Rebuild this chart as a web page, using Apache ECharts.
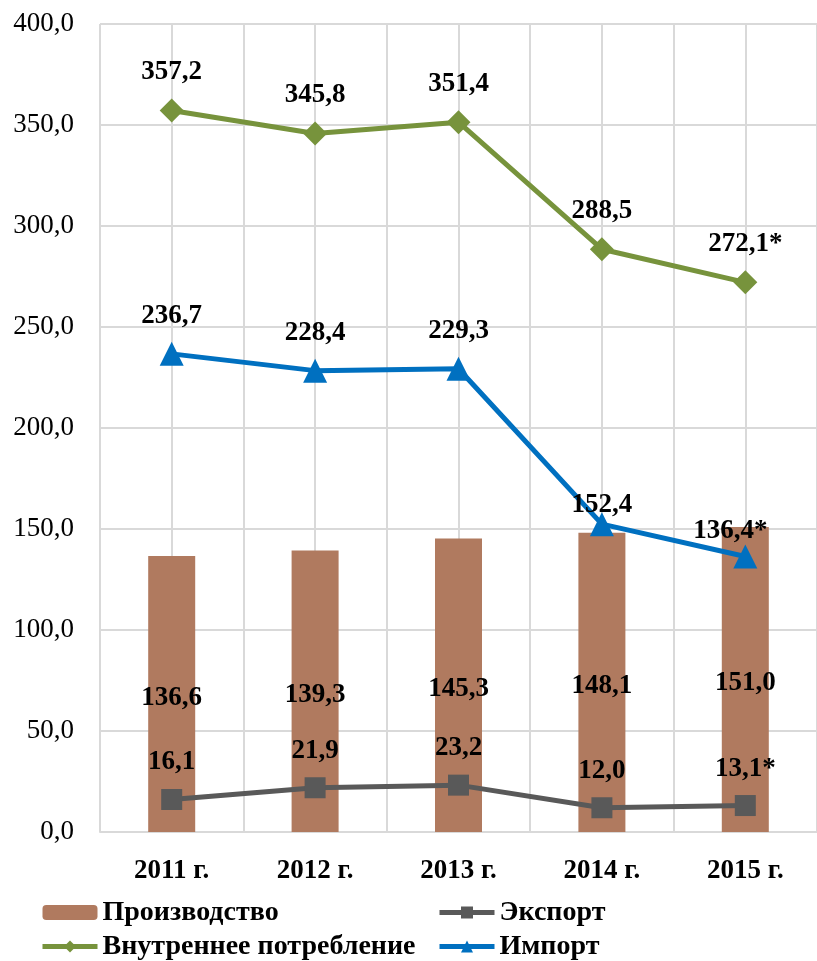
<!DOCTYPE html>
<html><head><meta charset="utf-8">
<script src="https://cdn.jsdelivr.net/npm/echarts@6/dist/echarts.min.js"></script>
<style>html,body{margin:0;padding:0;background:#fff}#c{width:817px;height:961px}</style>
</head><body><div id="c"></div>
<script>
const categories = ['2011 г.', '2012 г.', '2013 г.', '2014 г.', '2015 г.'];
const production = [136.6, 139.3, 145.3, 148.1, 151.0];
const exportVals = [16.1, 21.9, 23.2, 12.0, 13.1];
const consumption = [357.2, 345.8, 351.4, 288.5, 272.1];
const importVals = [236.7, 228.4, 229.3, 152.4, 136.4];
const estimated = [false, false, false, false, true];
const yTicks = { min: 0, max: 400, interval: 50 };

const FONT = '"Liberation Serif", "Times New Roman", serif';
const fmt = v => v.toFixed(1).replace('.', ',');
const fmtLine = p => fmt(p.value) + (estimated[p.dataIndex] ? '*' : '');

const labelBase = { show: true, position: 'top', fontFamily: FONT, fontWeight: 'bold', fontSize: 27, color: '#000' };

// per-point label tweaks for the import line (style only)
const importLabelTweaks = { 3: { distance: -6 }, 4: { distance: 0, offset: [-15, 0] } };

const legendCommon = { orient: 'vertical', top: 898, itemWidth: 55, itemHeight: 15, itemGap: 5, padding: 0,
  lineStyle: { width: 5 },
  textStyle: { fontFamily: FONT, fontWeight: 'bold', fontSize: 28, color: '#000', lineHeight: 29 } };

const chart = echarts.init(document.getElementById('c'), null, { renderer: 'canvas' });
chart.setOption({
  animation: false,
  backgroundColor: '#fff',
  grid: { left: 100, right: 0, top: 24, bottom: 129, containLabel: false },
  xAxis: [
    { type: 'category', data: categories, boundaryGap: true,
      axisLine: { show: true, lineStyle: { color: '#D9D9D9', width: 2 } },
      axisTick: { show: false },
      axisLabel: { fontFamily: FONT, fontWeight: 'bold', fontSize: 27, color: '#000', margin: 26 },
      splitLine: { show: false } },
    { type: 'category', data: categories.flatMap(c => [c + 'a', c + 'b']), boundaryGap: true, position: 'bottom',
      axisLine: { show: false }, axisTick: { show: false }, axisLabel: { show: false },
      splitLine: { show: true, lineStyle: { color: '#D9D9D9', width: 2 } } }
  ],
  yAxis: { type: 'value', min: yTicks.min, max: yTicks.max, interval: yTicks.interval,
    axisLine: { show: false }, axisTick: { show: false },
    axisLabel: { fontFamily: FONT, fontSize: 27, color: '#000', margin: 26, formatter: v => fmt(v) },
    splitLine: { show: true, lineStyle: { color: '#D9D9D9', width: 2 } } },
  legend: [
    Object.assign({ data: ['Производство', 'Внутреннее потребление'], left: 40 }, legendCommon),
    Object.assign({ data: ['Экспорт', 'Импорт'], left: 437 }, legendCommon)
  ],
  series: [
    { name: 'Производство', type: 'bar', data: production, barWidth: 47, z: 1,
      itemStyle: { color: '#B07A5F' },
      label: { show: true, position: 'inside', fontFamily: FONT, fontWeight: 'bold', fontSize: 27, color: '#000', offset: [0, 4], formatter: p => fmt(p.value) } },
    { name: 'Экспорт', type: 'line', data: exportVals, symbol: 'rect', symbolSize: 21, z: 3,
      lineStyle: { color: '#595959', width: 5 }, itemStyle: { color: '#595959' },
      label: Object.assign({}, labelBase, { distance: 13, formatter: fmtLine }) },
    { name: 'Внутреннее потребление', type: 'line', data: consumption, symbol: 'diamond', symbolSize: 24, z: 3,
      lineStyle: { color: '#77933C', width: 5 }, itemStyle: { color: '#77933C' },
      label: Object.assign({}, labelBase, { distance: 13, formatter: fmtLine }) },
    { name: 'Импорт', type: 'line', z: 3,
      data: importVals.map((v, i) => importLabelTweaks[i] ? { value: v, label: importLabelTweaks[i] } : v),
      symbol: 'triangle', symbolSize: 24,
      lineStyle: { color: '#0070C0', width: 5 }, itemStyle: { color: '#0070C0' },
      label: Object.assign({}, labelBase, { distance: 12, formatter: fmtLine }) }
  ]
});
</script></body></html>
